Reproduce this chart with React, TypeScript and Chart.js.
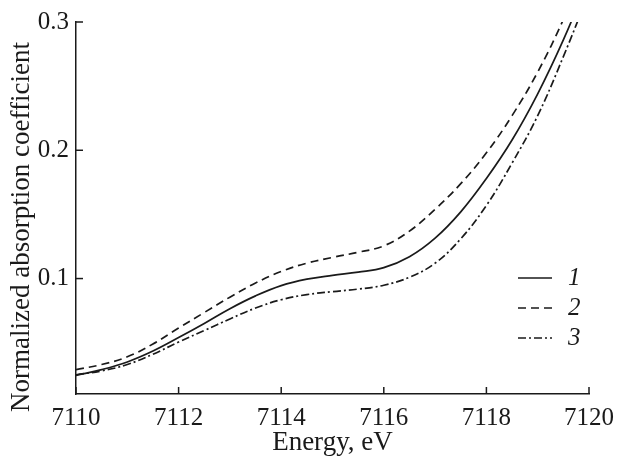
import { useEffect, useRef } from "react";
import { Chart, registerables } from "chart.js";
Chart.register(...registerables);

const energy = [7110, 7110.5, 7111, 7111.5, 7112, 7112.5, 7113, 7113.5, 7114, 7114.5, 7115, 7115.5, 7116, 7116.5, 7117, 7117.5, 7118, 7118.5, 7119, 7119.5, 7120];
const curve1 = [0.0245, 0.029, 0.035, 0.0435, 0.054, 0.065, 0.0765, 0.0865, 0.0945, 0.0995, 0.1025, 0.105, 0.1085, 0.117, 0.1315, 0.152, 0.178, 0.208, 0.244, 0.286, 0.334];
const curve2 = [0.029, 0.033, 0.039, 0.049, 0.0615, 0.0735, 0.0855, 0.0965, 0.1055, 0.112, 0.1165, 0.1205, 0.1255, 0.137, 0.154, 0.174, 0.198, 0.227, 0.261, 0.302, 0.35];
const curve3 = [0.025, 0.028, 0.033, 0.041, 0.0505, 0.0595, 0.0685, 0.0770, 0.0835, 0.0875, 0.0898, 0.0918, 0.0948, 0.101, 0.112, 0.131, 0.157, 0.19, 0.227, 0.273, 0.323];
const seriesLabels = ["1", "2", "3"];
const xTickStep = 2;
const yTickValues = [0.1, 0.2, 0.3];
const xTitle = "Energy, eV";
const yTitle = "Normalized absorption coefficient";

const INK = "#1a1a1a";
const SERIF = "'Liberation Serif', 'Times New Roman', serif";
const dashes: number[][] = [[], [8, 5], [8, 3, 2, 3]];

const pts = (ys: number[]) => ys.map((y, i) => ({ x: energy[i], y }));

const decorPlugin = {
  id: "decor",
  afterDraw(chart: any) {
    const ctx = chart.ctx;
    const { left, right, bottom } = chart.chartArea;
    const xs = chart.scales.x;
    const ys = chart.scales.y;
    ctx.save();
    ctx.strokeStyle = INK;
    ctx.lineWidth = 1.5;
    // inward ticks
    for (const t of xs.ticks) {
      const px = xs.getPixelForValue(t.value);
      ctx.beginPath();
      ctx.moveTo(px, bottom);
      ctx.lineTo(px, bottom - 7);
      ctx.stroke();
    }
    for (const t of ys.ticks) {
      const py = ys.getPixelForValue(t.value);
      ctx.beginPath();
      ctx.moveTo(left, py);
      ctx.lineTo(left + 7, py);
      ctx.stroke();
    }
    // y-axis title (placed slightly below the plot centre, as in the source figure)
    ctx.save();
    ctx.translate(left - 54, (chart.chartArea.top + bottom) / 2 + 19);
    ctx.rotate(-Math.PI / 2);
    ctx.fillStyle = INK;
    ctx.font = `27px ${SERIF}`;
    ctx.textAlign = "center";
    ctx.textBaseline = "middle";
    ctx.fillText(yTitle, 0, 0);
    ctx.restore();
    // legend
    const rowsY = [bottom - 116, bottom - 86, bottom - 56];
    seriesLabels.forEach((lab, i) => {
      ctx.setLineDash(dashes[i]);
      ctx.lineWidth = 1.6;
      ctx.beginPath();
      ctx.moveTo(right - 71, rowsY[i]);
      ctx.lineTo(right - 37, rowsY[i]);
      ctx.stroke();
      ctx.setLineDash([]);
      ctx.fillStyle = INK;
      ctx.font = `italic 25px ${SERIF}`;
      ctx.textBaseline = "middle";
      ctx.textAlign = "left";
      ctx.fillText(lab, right - 21, rowsY[i]);
    });
    ctx.restore();
  },
};

export default function App() {
  const ref = useRef<HTMLCanvasElement | null>(null);
  useEffect(() => {
    if (!ref.current) return;
    const all = [curve1, curve2, curve3];
    const chart = new Chart(ref.current, {
      type: "line",
      data: {
        datasets: all.map((c, i) => ({
          label: seriesLabels[i],
          data: pts(c),
          borderColor: INK,
          borderWidth: 1.7,
          borderDash: dashes[i],
          pointRadius: 0,
          fill: false,
          tension: 0.4,
        })),
      },
      options: {
        animation: false,
        responsive: false,
        layout: { padding: { top: 17, right: 23, left: 0, bottom: 0 } },
        plugins: { legend: { display: false }, tooltip: { enabled: false } },
        scales: {
          x: {
            type: "linear",
            min: 7110,
            max: 7120,
            ticks: {
              stepSize: xTickStep,
              color: INK,
              font: { family: SERIF, size: 25 },
              padding: 9,
              maxRotation: 0,
              autoSkip: false,
              callback: (v: any) => String(v),
            },
            grid: { display: false, drawTicks: false },
            border: { display: true, color: INK, width: 1.5 },
            title: {
              display: true,
              text: xTitle,
              color: INK,
              font: { family: SERIF, size: 27 },
              padding: { top: 0, bottom: 0 },
            },
            afterFit: (s: any) => {
              s.height = 65;
            },
          },
          y: {
            type: "linear",
            min: 0.01,
            max: 0.3,
            afterBuildTicks: (s: any) => {
              s.ticks = yTickValues.map((v) => ({ value: v }));
            },
            ticks: {
              color: INK,
              font: { family: SERIF, size: 25 },
              padding: 7,
              callback: (v: any) => Number(v).toFixed(1),
            },
            grid: { display: false, drawTicks: false },
            border: { display: true, color: INK, width: 1.5 },
            title: { display: false },
            afterFit: (s: any) => {
              s.width = 76;
            },
          },
        },
      },
      plugins: [decorPlugin],
    });
    return () => chart.destroy();
  }, []);
  return (
    <div style={{ position: "fixed", left: 0, top: 0, width: 623, height: 459, background: "#fff" }}>
      <canvas ref={ref} width={623} height={459} style={{ width: 623, height: 459 }} />
    </div>
  );
}
